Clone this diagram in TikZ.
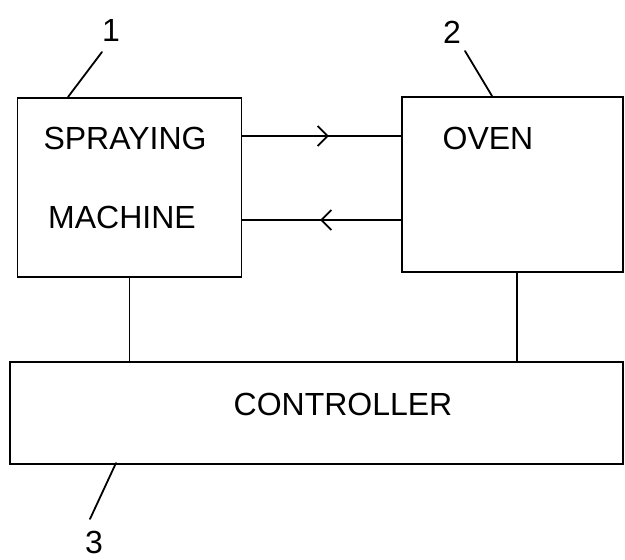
\documentclass[tikz,border=0pt]{standalone}
\usepackage{fontspec}
\setmainfont{Liberation Sans}
\usetikzlibrary{calc,arrows.meta,decorations.markings}
\tikzset{
  blk/.style={draw,line width=1.6pt,rectangle,inner sep=0pt},
  lbl/.style={inner sep=0pt,font=\fontsize{32}{36}\selectfont},
  num/.style={inner sep=0pt,font=\fontsize{32}{36}\selectfont},
  wire/.style={line width=1.6pt},
  lead/.style={line width=1.8pt,line cap=round},
  midarrow/.style={postaction={decorate},decoration={markings,
     mark=at position #1 with {\arrow{Straight Barb[length=10pt,width=20pt,line width=1.8pt]}}}}
}
\begin{document}
\begin{tikzpicture}[x=1pt,y=-1pt]
\useasboundingbox (0,0) rectangle (625,560);
% blocks
\node[blk,minimum width=224pt,minimum height=179pt] (sm) at (129.5,187.5) {};
\node[blk,minimum width=221pt,minimum height=175pt] (oven) at (512.5,184.5) {};
\node[blk,minimum width=613pt,minimum height=102pt] (ctrl) at (316.5,413) {};
% texts
\node[lbl] (t1) at (125,138) {SPRAYING};
\node[lbl] (t2) at (122,217) {MACHINE};
\node[lbl] (t3) at (488,138) {OVEN};
\node[lbl] (t4) at (343,404) {CONTROLLER};
% reference numbers
\node[num] (n1) at (111,30) {1};
\node[num] (n2) at (452,32) {2};
\node[num] (n3) at (94,542) {3};
\coordinate (l1a) at (102,52);
\coordinate (l2a) at (465,51);
\coordinate (l3a) at (90,519);
\draw[lead] (l1a) -- (68,97);
\draw[lead] (l2a) -- (492,96);
\draw[lead] (l3a) -- (116,463);
% connectors
\draw[wire,midarrow=0.545] (sm.east |- 0,136) -- (oven.west |- 0,136);
\draw[wire,midarrow=0.51] (oven.west |- 0,220) -- (sm.east |- 0,220);
\draw[wire] (sm.south) -- (sm.south |- ctrl.north);
\draw[wire] ($(oven.south)+(4.5,0)$) coordinate (os) -- (os |- ctrl.north);
\end{tikzpicture}
\end{document}
